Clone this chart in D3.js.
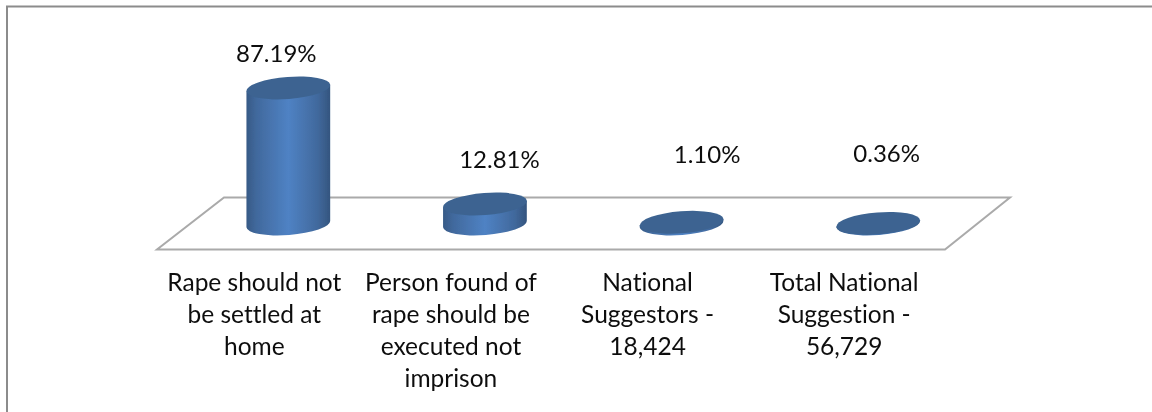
<!DOCTYPE html>
<html>
<head>
<meta charset="utf-8">
<script src="https://d3js.org/d3.v7.min.js"></script>
<style>
    html, body { margin: 0; padding: 0; background: #fff; }
    svg { display: block; }
    text { font-family: Lato, "Open Sans", sans-serif; fill: #111; font-variant-ligatures: none; }
</style>
</head>
<body>
<div id="chart"></div>
<script>
    ////////////////////////////////////////////////
    // data

    var categories = [
        ['Rape should not', 'be settled at', 'home'],
        ['Person found of', 'rape should be', 'executed not', 'imprison'],
        ['National', 'Suggestors -', '18,424'],
        ['Total National', 'Suggestion -', '56,729']
    ];
    var values = [87.19, 12.81, 1.10, 0.36];
    var valueLabels = ['87.19%', '12.81%', '1.10%', '0.36%'];

    ////////////////////////////////////////////////
    // layout

    var w = 1152, h = 412;
    var rx = 42, ry = 11, tilt = -4.5;
    var baseY = 224;
    var fontSize = 24, catFontSize = 24.5;

    // labels were dragged by hand in the original
    var labelDx = [-12, 14.5, 25.5, 8.5];
    var labelY = [62, 168, 163, 162];
    var axisDx = -34;

    var xScale = d3.scaleBand()
        .domain(d3.range(values.length))
        .range([190, 976.5])
        .padding(0);

    var yScale = d3.scaleLinear()
        .domain([0, 100])
        .range([baseY, baseY - 156]);

    var svg = d3.select('#chart')
        .append('svg')
        .attr('width', w)
        .attr('height', h);

    var defs = svg.append('defs');

    var grad = defs.append('linearGradient')
        .attr('id', 'cyl')
        .attr('x1', 0).attr('x2', 1)
        .attr('y1', 0).attr('y2', 0);

    grad.selectAll('stop')
        .data([[0, '#375a86'], [0.12, '#41699d'], [0.5, '#4f82c4'], [0.85, '#41699d'], [1, '#34557f']])
        .enter()
        .append('stop')
        .attr('offset', function(d){ return d[0]; })
        .attr('stop-color', function(d){ return d[1]; });

    // the reference is a soft, upscaled picture
    defs.append('filter')
        .attr('id', 'soft')
        .append('feGaussianBlur')
        .attr('stdDeviation', 0.45);

    var g = svg.append('g').attr('filter', 'url(#soft)');

    ////////////////////////////////////////////////
    // outer frame, only top and left show

    svg.append('path')
        .attr('d', 'M 7 412 L 7 6.5 L 1152 6.5')
        .attr('fill', 'none')
        .attr('stroke', '#8c8c8c')
        .attr('stroke-width', 2);

    ////////////////////////////////////////////////
    // floor

    g.append('path')
        .attr('d', 'M 157 249.5 L 945 249.5 L 1010 197.5 L 224 197.5 Z')
        .attr('fill', 'none')
        .attr('stroke', '#aaaaaa')
        .attr('stroke-width', 2);

    ////////////////////////////////////////////////
    // cylinders

    var tipX = rx * Math.cos(tilt * Math.PI / 180);
    var tipY = rx * Math.sin(tilt * Math.PI / 180);

    function cx(i){
        return xScale(i) + xScale.bandwidth() / 2;
    }

    function sidePath(d, i){
        var top = yScale(d);
        return 'M ' + (cx(i) - tipX) + ' ' + (top - tipY) +
            ' L ' + (cx(i) - tipX) + ' ' + (baseY - tipY) +
            ' A ' + rx + ' ' + ry + ' ' + tilt + ' 0 0 ' + (cx(i) + tipX) + ' ' + (baseY + tipY) +
            ' L ' + (cx(i) + tipX) + ' ' + (top + tipY) + ' Z';
    }

    g.selectAll('path.side')
        .data(values)
        .enter()
        .append('path')
        .attr('class', 'side')
        .attr('d', sidePath)
        .attr('fill', 'url(#cyl)');

    g.selectAll('ellipse.top')
        .data(values)
        .enter()
        .append('ellipse')
        .attr('class', 'top')
        .attr('rx', rx)
        .attr('ry', ry)
        .attr('transform', function(d, i){
            return 'translate(' + cx(i) + ',' + yScale(d) + ') rotate(' + tilt + ')';
        })
        .attr('fill', '#3c6491');

    ////////////////////////////////////////////////
    // value labels

    g.selectAll('text.value')
        .data(valueLabels)
        .enter()
        .append('text')
        .attr('class', 'value')
        .attr('text-anchor', 'middle')
        .attr('font-size', fontSize)
        .attr('x', function(d, i){ return cx(i) + labelDx[i]; })
        .attr('y', function(d, i){ return labelY[i]; })
        .text(function(d){ return d; });

    ////////////////////////////////////////////////
    // category labels

    var cats = g.selectAll('text.cat')
        .data(categories)
        .enter()
        .append('text')
        .attr('class', 'cat')
        .attr('text-anchor', 'middle')
        .attr('font-size', catFontSize);

    cats.selectAll('tspan')
        .data(function(d, i){
            return d.map(function(line){ return {line: line, i: i}; });
        })
        .enter()
        .append('tspan')
        .attr('x', function(d){ return cx(d.i) + axisDx; })
        .attr('y', function(d, j){ return 291 + j * 32; })
        .text(function(d){ return d.line; });
</script>
</body>
</html>
